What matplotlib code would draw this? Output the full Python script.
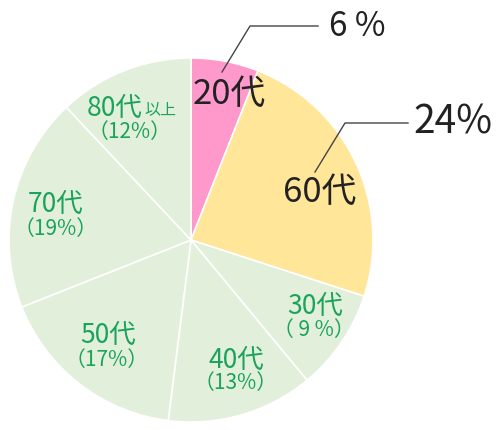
import matplotlib
matplotlib.use('Agg')
import matplotlib.pyplot as plt

plt.rcParams['font.family'] = ['Noto Sans CJK JP', 'DejaVu Sans']

# ── DATA (clockwise from 12 o'clock)
ages   = ['20代', '60代', '30代', '40代', '50代', '70代', '80代']
shares = [6, 24, 9, 13, 17, 19, 12]
colors = ['#ff99cc', '#ffe699', '#e2efda', '#e2efda', '#e2efda', '#e2efda', '#e2efda']

GREEN = '#1aa35a'
DARK = '#222222'

fig = plt.figure(figsize=(5.0, 4.3), dpi=100)
ax = fig.add_axes([0, 0, 1, 1])

# pixel coords -> data coords (y flipped)
def P(x, y):
    return x, 430 - y

ax.pie(shares, colors=colors, startangle=90, counterclock=False,
       center=P(191, 240), radius=182,
       wedgeprops=dict(edgecolor='white', linewidth=1.2))

# pie() resets the limits, so set them afterwards
ax.set_xlim(0, 500)
ax.set_ylim(0, 430)
ax.set_aspect('equal')
ax.axis('off')

# ── highlighted slices: black labels with leader lines
ax.text(*P(229, 94), ages[0], fontsize=25, color=DARK, ha='center', va='center')
ax.plot([222, 250, 318], [430 - 72, 430 - 26, 430 - 26], color='#444444', lw=1)
ax.text(*P(357, 27), f'{shares[0]} %', fontsize=24, color=DARK, ha='center', va='center')

ax.text(*P(320, 192), ages[1], fontsize=25, color=DARK, ha='center', va='center')
ax.plot([315, 345, 408], [430 - 172, 430 - 123, 430 - 123], color='#444444', lw=1)
ax.text(*P(453, 122), f'{shares[1]}%', fontsize=28, color=DARK, ha='center', va='center')

# ── other slices: green labels
green_pos = {
    '30代': ((315, 306), (314, 330)),
    '40代': ((236, 360), (236, 383)),
    '50代': ((108, 335), (107, 360)),
    '70代': ((56, 204), (56, 229)),
}
for age, val in zip(ages, shares):
    if age in green_pos:
        (x1, y1), (x2, y2) = green_pos[age]
        ax.text(*P(x1, y1), age, fontsize=19, color=GREEN, ha='center', va='center')
        pct = f'（{val}%）' if val >= 10 else f'（ {val} %）'
        ax.text(*P(x2, y2), pct, fontsize=15, color=GREEN, ha='center', va='center')

# 80代以上
ax.text(*P(143, 108), ages[6], fontsize=19, color=GREEN, ha='right', va='center')
ax.text(*P(144, 110), '以上', fontsize=11.5, color=GREEN, ha='left', va='center')
ax.text(*P(130, 132), f'（{shares[6]}%）', fontsize=15, color=GREEN, ha='center', va='center')

fig.savefig('out.png', dpi=100)
plt.close(fig)
